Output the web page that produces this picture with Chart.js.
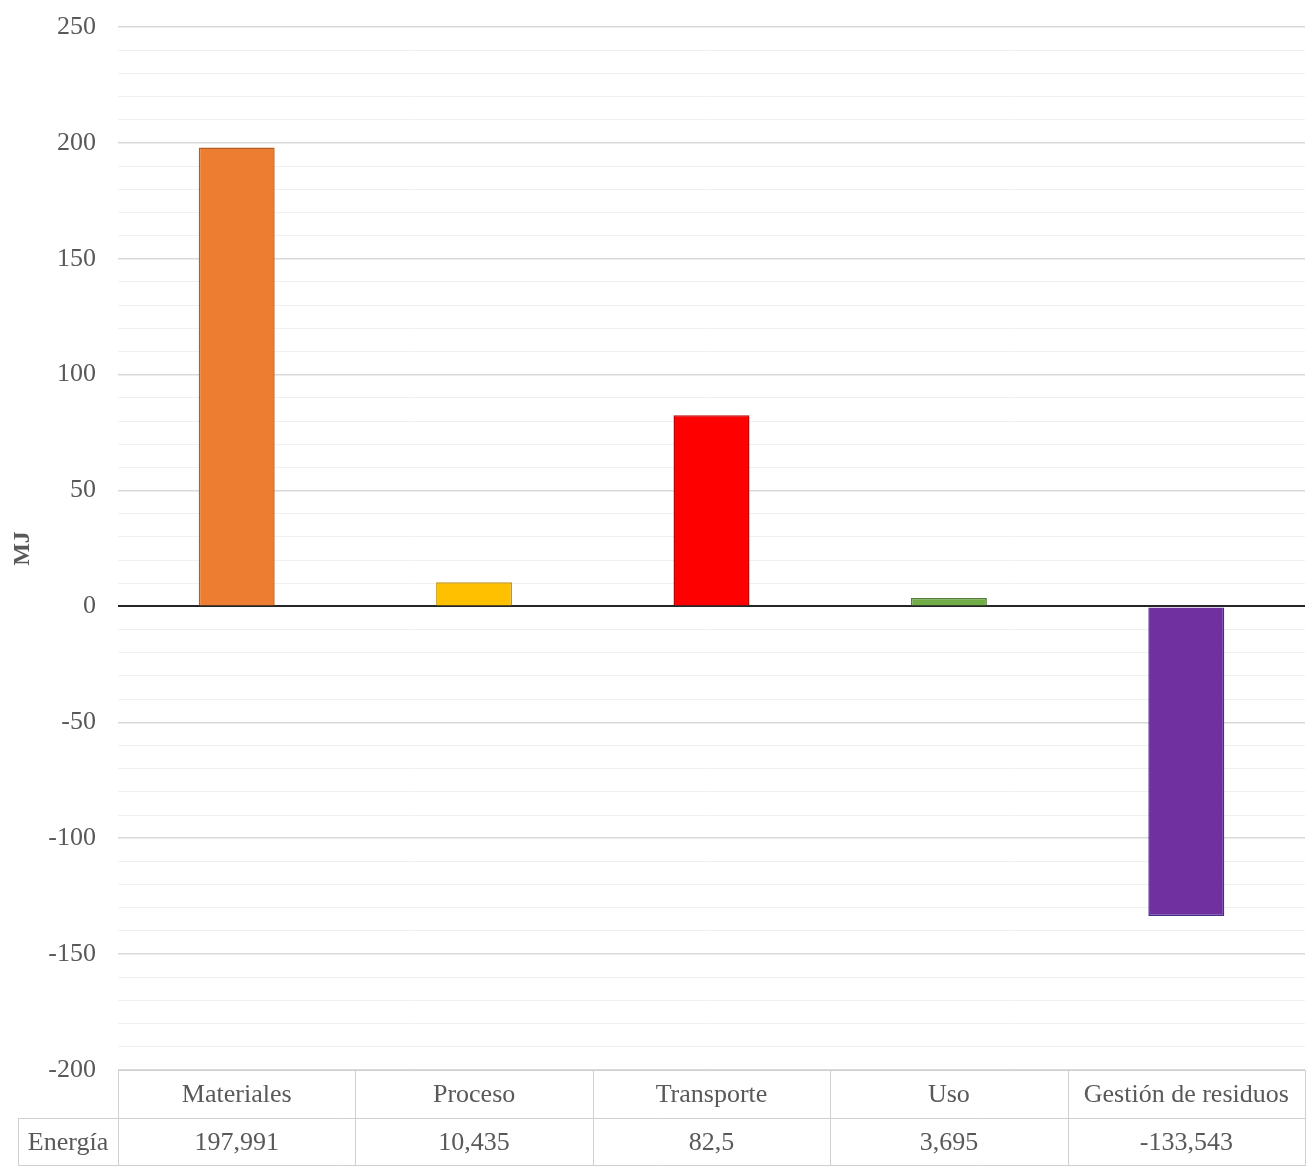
<!DOCTYPE html>
<html>
<head>
<meta charset="utf-8">
<script src="https://cdn.jsdelivr.net/npm/chart.js@4.4.1/dist/chart.umd.min.js"></script>
<style>
  html, body { margin: 0; padding: 0; background: #fff; }
  #wrap { width: 1308px; height: 1166px; }
</style>
</head>
<body>
<div id="wrap"><canvas id="chart"></canvas></div>
<script>
// datos del gráfico
const categorias = ['Materiales', 'Proceso', 'Transporte', 'Uso', 'Gestión de residuos'];
const energia = [197.991, 10.435, 82.5, 3.695, -133.543];
const nombreSerie = 'Energía';
const coloresBarra = ['#ED7D31', '#FFC000', '#FF0000', '#70AD47', '#7030A0'];
const coloresBorde = ['#b65d22', '#c79600', '#c00000', '#548235', '#40308c'];

const fuente = '"Liberation Serif", "Times New Roman", serif';
const gris = '#595959';

// tabla de datos bajo el eje (como en Excel)
const tablaDatos = {
  id: 'tablaDatos',
  afterDraw(chart) {
    const ctx = chart.ctx;
    const area = chart.chartArea;
    const x = chart.scales.x;
    const paso = (area.right - area.left) / categorias.length;
    const fila1 = area.bottom;
    const fila2 = fila1 + 48;
    const fin = chart.height;
    const izq = 18;

    ctx.save();
    ctx.strokeStyle = '#d0d0d0';
    ctx.lineWidth = 1;
    ctx.beginPath();
    ctx.moveTo(area.left, fila1 + 0.5); ctx.lineTo(area.right, fila1 + 0.5);
    ctx.moveTo(izq, fila2 + 0.5); ctx.lineTo(area.right, fila2 + 0.5);
    ctx.moveTo(izq, fin - 0.5); ctx.lineTo(area.right, fin - 0.5);
    for (let i = 0; i <= categorias.length; i++) {
      const xx = Math.round(area.left + paso * i) + 0.5;
      ctx.moveTo(xx, fila1); ctx.lineTo(xx, fin);
    }
    ctx.moveTo(izq + 0.5, fila2); ctx.lineTo(izq + 0.5, fin);
    ctx.stroke();

    ctx.fillStyle = gris;
    ctx.font = '26px ' + fuente;
    ctx.textAlign = 'center';
    ctx.textBaseline = 'middle';
    categorias.forEach((c, i) => {
      const cx = x.getPixelForValue(i);
      ctx.fillText(c, cx, fila1 + 25);
      ctx.fillText(String(energia[i]).replace('.', ','), cx, fila2 + 25);
    });
    ctx.fillText(nombreSerie, (izq + area.left) / 2, fila2 + 25);
    ctx.restore();
  }
};

const chart = new Chart(document.getElementById('chart').getContext('2d'), {
  type: 'bar',
  data: {
    labels: categorias,
    datasets: [{
      label: nombreSerie,
      data: energia,
      backgroundColor: coloresBarra,
      borderColor: coloresBorde,
      borderWidth: 1.5,
      barPercentage: 0.32,
      categoryPercentage: 1
    }]
  },
  options: {
    responsive: true,
    maintainAspectRatio: false,
    animation: false,
    layout: { padding: { top: 27, right: 3, bottom: 96, left: 0 } },
    plugins: {
      legend: { display: false },
      tooltip: { enabled: false }
    },
    scales: {
      x: {
        display: false,
        grid: { display: false }
      },
      y: {
        min: -200,
        max: 250,
        afterFit(scale) {
          scale.width = 118;
          scale.paddingTop = 0;
          scale.paddingBottom = 0;
        },
        border: { display: false },
        title: {
          display: true,
          text: 'MJ',
          color: gris,
          font: { family: fuente, size: 24, weight: 'bold' },
          padding: { top: 8, bottom: 0 }
        },
        ticks: {
          stepSize: 10,
          autoSkip: false,
          padding: 22,
          color: gris,
          font: { family: fuente, size: 26 },
          callback: v => (v % 50 === 0 ? String(v) : '')
        },
        grid: {
          drawTicks: false,
          color: c => c.tick.value === 0 ? '#262626' : (c.tick.value % 50 === 0 ? '#d9d9d9' : '#f0f0f0'),
          lineWidth: c => c.tick.value === 0 ? 2 : (c.tick.value % 50 === 0 ? 1.5 : 1)
        }
      }
    }
  },
  plugins: [tablaDatos]
});
</script>
</body>
</html>
